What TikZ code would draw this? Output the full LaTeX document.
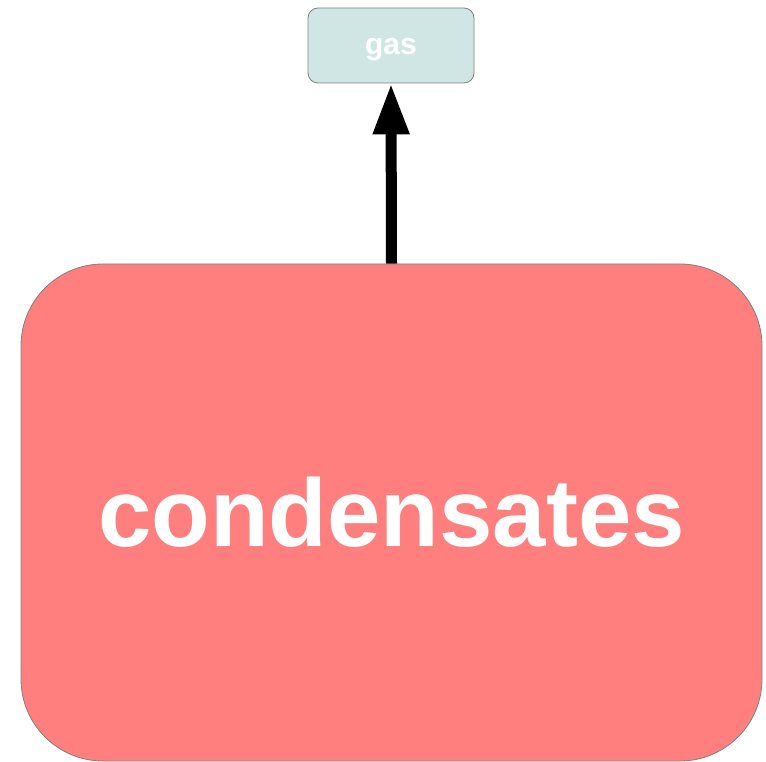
\documentclass[tikz,border=0pt]{standalone}
\usepackage{fontspec}
\setmainfont{Liberation Sans}
\usetikzlibrary{arrows.meta}
\definecolor{gasfill}{RGB}{208,230,228}
\definecolor{condfill}{RGB}{255,127,127}
\definecolor{edgegray}{RGB}{128,128,128}
\begin{document}
\begin{tikzpicture}[x=1pt,y=-1pt,
  box/.style={draw=edgegray,line width=0.8pt,text=white,font=\bfseries,inner sep=0pt},
  flow/.style={line width=11pt,-{Triangle[length=51pt,width=34pt]}}]
\useasboundingbox (0,0) rectangle (766,762);
\node[box,fill=gasfill,rounded corners=10pt,minimum width=166pt,minimum height=75pt,font=\bfseries\fontsize{30}{34}\selectfont] (gas) at (391,45.5) {\raisebox{-9.5pt}[0pt][0pt]{gas}};
\node[box,fill=condfill,rounded corners=82pt,minimum width=741pt,minimum height=497pt,font=\bfseries\fontsize{96}{100}\selectfont] (cond) at (391.5,512.5) {condensates};
\draw[flow] (cond.north) -- (gas.south);
\end{tikzpicture}
\end{document}
